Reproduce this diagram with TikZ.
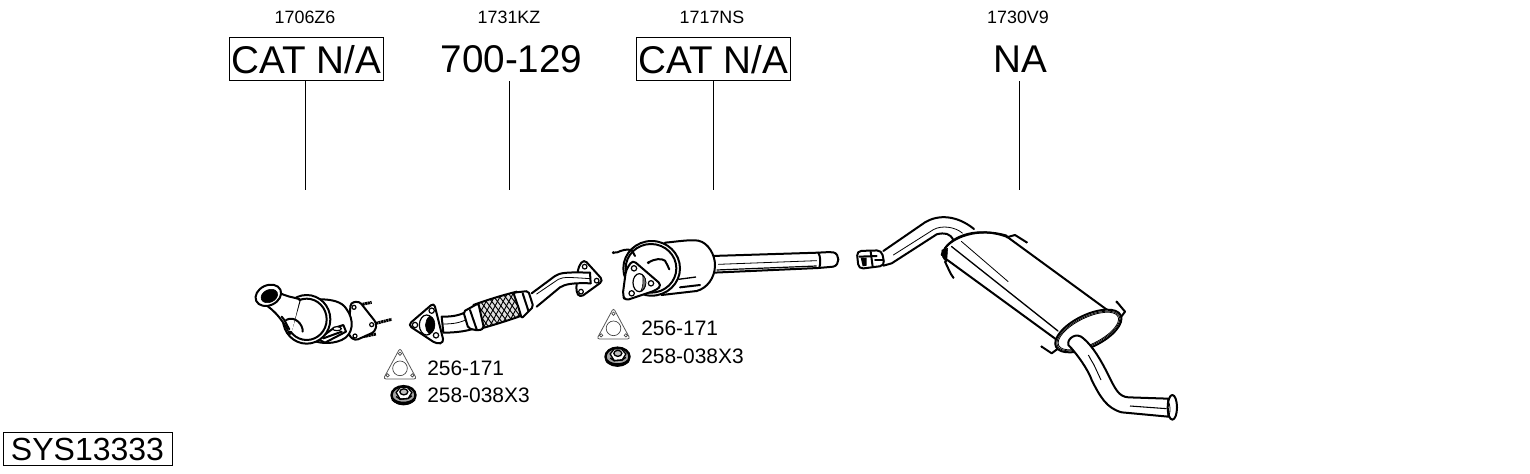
\documentclass[tikz,border=0pt]{standalone}
\usepackage{fontspec}
\setmainfont{Liberation Sans}
\tikzset{
  ol/.style={draw=black,line width=1.5pt,fill=white,line join=round,line cap=round},
  ln/.style={draw=black,line width=1.5pt,line join=round,line cap=round},
  thin2/.style={draw=black,line width=0.6pt,line cap=round},
  hole/.style={draw=black,line width=0.9pt,fill=white},
  big/.style={font=\fontsize{29pt}{30pt}\selectfont,inner sep=0pt,minimum width=115.5pt,minimum height=32.25pt},
  boxed/.style={draw=black,line width=0.75pt},
  code/.style={font=\fontsize{13.4pt}{15pt}\selectfont,inner sep=0pt},
  part/.style={font=\fontsize{15.7pt}{17pt}\selectfont,inner sep=0pt,anchor=west},
  lead/.style={draw=black,line width=0.75pt},
  px/.style={x=0.25pt,y=-0.25pt},
  gasket/.pic={
    \begin{scope}[x=0.25pt,y=-0.25pt]
      \draw[draw=black!65,line width=0.6pt,rounded corners=2pt] (0,-3)--(50,90)--(-50,90)--cycle;
      \draw[draw=black!75,line width=0.5pt] (0,58) circle (22);
      \foreach \p in {(0,14),(37,79),(-37,79)} \draw[draw=black!75,line width=0.5pt] \p circle (5);
    \end{scope}},
  nutpart/.pic={
    \begin{scope}[x=0.25pt,y=-0.25pt]
      \draw[draw=black,line width=1.8pt,fill=black!35] (0,2) ellipse (36 and 27);
      \draw[draw=black,line width=1pt,fill=white] (-22,-6)--(-10,-21)--(12,-21)--(25,-6)--(14,12)--(-10,14)--cycle;
      \draw[draw=black,line width=1pt,fill=black!25] (1,-8) ellipse (12 and 9);
      \draw[draw=black,line width=1pt] (-22,6)--(-10,14)--(14,12)--(25,4);
      \draw[draw=black,line width=2.2pt] (-33,14) .. controls (-18,30) and (18,30) .. (33,14);
    \end{scope}}
}
\begin{document}
\begin{tikzpicture}[x=0.75pt,y=-0.75pt]
\useasboundingbox (0,0) rectangle (1530,474);
\fill[white] (0,0) rectangle (1530,474);

% header labels
\node[code] (c1) at (305,17) {1706Z6};
\node[code] (c2) at (509,17) {1731KZ};
\node[code] (c3) at (712,17) {1717NS};
\node[code] (c4) at (1018,17) {1730V9};
\node[big,boxed] (b1) at (306,59.5) {CAT N/A};
\node[big] (b2) at (511.5,59.5) {700-129};
\node[big,boxed] (b3) at (713,59.5) {CAT N/A};
\node[big] (b4) at (1020,59.5) {NA};
\coordinate (e1) at (305.5,190);
\coordinate (e2) at (509.5,190);
\coordinate (e3) at (713,190);
\coordinate (e4) at (1019,190);
\draw[lead] (e1|-b1.south) -- (e1);
\draw[lead] (e2|-b2.south) -- (e2);
\draw[lead] (e3|-b3.south) -- (e3);
\draw[lead] (e4|-b4.south) -- (e4);
\node[draw=black,line width=0.75pt,font=\fontsize{24pt}{26pt}\selectfont,inner sep=0pt,minimum width=126.75pt,minimum height=24.75pt] (sys) at (87.5,449) {SYS13333};

% gaskets and nuts
\pic at (400,349) {gasket};
\pic at (403.5,394.5) {nutpart};
\pic at (613.5,309) {gasket};
\pic at (617.5,356) {nutpart};
\node[part] (p1) at (427,368.5) {256-171};
\node[part] (p2) at (427,395) {258-038X3};
\node[part] (p3) at (641,328.5) {256-171};
\node[part] (p4) at (641,356) {258-038X3};

% catalyst 1
\begin{scope}[shift={(240,260)},px]
  \foreach \a/\b/\c/\d in {395/127/352/136,455/178/400/192,408/222/370/230}
    \draw[draw=black,line width=2.2pt,dash pattern=on 1.6pt off 0.4pt] (\c,\d)--(\a,\b);
  \draw[ol,rounded corners=2.5pt] (332,128)--(358,124)--(410,190)--(405,215)--(345,242)--(325,225)--cycle;
  \draw[hole] (342,142) circle (6); \draw[hole] (395,194) circle (6); \draw[hole] (345,228) circle (6);
  \draw[ol] (240,118) .. controls (275,118) and (305,125) .. (318,145) .. controls (345,180) and (340,225) .. (305,240) .. controls (270,255) and (230,250) .. (205,235) -- cycle;
  \draw[ol] (280,205) -- (310,195) -- (318,215) -- (255,248) -- (235,238) -- cycle;
  \draw[hole] (291,206) ellipse (13 and 6);
  \draw[ln] (250,235) -- (305,215);
  \draw[ol] (200,178) ellipse (71 and 73);
  \draw[ln] (200,178) ellipse (60 and 62);
  \draw[ol] (60,125) .. controls (90,140) and (120,165) .. (150,222) -- (180,118) .. controls (155,110) and (135,110) .. (115,95) -- cycle;
  \draw[draw=white,line width=3pt] (172,122)--(150,212);
  \draw[ln] (138,180) .. controls (165,165) and (190,195) .. (188,215);
  \draw[ln] (125,170) .. controls (135,180) and (140,195) .. (148,208);
  \draw[ol,rotate around={25:(85,106)}] (85,106) ellipse (40 and 30);
  \draw[draw=black,fill=black,rotate around={25:(88,108)}] (88,108) ellipse (26 and 19);
\end{scope}

% flexible pipe
\begin{scope}[shift={(380,250)},px]
  \draw[ol,rounded corners=3pt] (612,28)--(670,92)--(600,143)--(588,125)--(595,50)--cycle;
  \draw[hole] (614,50) circle (7); \draw[hole] (650,92) circle (7); \draw[hole] (603,125) circle (7);
  \fill[white] (455,130) -- (525,78) .. controls (540,68) and (560,66) .. (630,68) -- (632,100) .. controls (575,98) and (555,103) .. (540,112) -- (470,170) -- cycle;
  \draw[ln] (455,130) -- (525,78) .. controls (540,68) and (560,66) .. (630,68);
  \draw[ln] (632,100) .. controls (575,98) and (555,103) .. (540,112) -- (470,170);
  \draw[ln] (630,68) -- (632,100);
  \draw[thin2] (470,132) -- (535,88) .. controls (550,80) and (570,82) .. (630,86);
  \begin{scope}
    \clip (280,165) .. controls (320,150) and (370,135) .. (410,125) -- (430,195) .. controls (390,210) and (340,225) .. (305,235) -- cycle;
    \fill[black!12] (270,120) rectangle (440,240);
    \foreach \i in {0,...,13} {
      \draw[black,line width=0.7pt] (250+\i*17,250) -- (320+\i*17,120);
      \draw[black,line width=0.7pt] (190+\i*17,120) -- (290+\i*17,250);
    }
  \end{scope}
  \draw[ln] (280,165) .. controls (320,150) and (370,135) .. (410,125);
  \draw[ln] (305,235) .. controls (340,225) and (390,210) .. (430,195);
  \draw[ol,rounded corners=1.5pt] (400,128)--(445,123)--(460,170)--(425,205)--(418,180)--cycle;
  \draw[ln] (428,130)--(445,182);
  \draw[ol] (185,200) .. controls (215,200) and (240,198) .. (268,180) -- (285,235) .. controls (255,245) and (220,248) .. (190,248) -- cycle;
  \draw[thin2] (190,222) .. controls (220,222) and (245,218) .. (265,205);
  \draw[ol,rounded corners=1.5pt] (250,185)--(295,160)--(312,235)--(295,242)--(265,235)--cycle;
  \draw[ln] (270,180)--(290,238);
  \draw[ol,rounded corners=3pt] (162,158)--(192,278)--(170,282)--(84,225)--cycle;
  \draw[hole] (155,182) circle (8); \draw[hole] (168,256) circle (8); \draw[hole] (105,225) circle (8);
  \draw[hole] (140,225) ellipse (22 and 30);
  \draw[fill=black] (150,198) .. controls (170,205) and (170,245) .. (148,252) .. controls (132,240) and (132,210) .. (150,198) -- cycle;
\end{scope}

% catalyst 2 with pipe
\begin{scope}[shift={(590,230)},px]
  \draw[ol] (365,78) -- (685,68) .. controls (700,67) and (715,66) .. (730,67) .. controls (750,72) and (750,105) .. (730,110) -- (685,114) -- (370,128) -- cycle;
  \draw[ln] (685,68) .. controls (692,80) and (692,100) .. (688,113);
  \draw[thin2] (385,103) -- (680,92);
  \draw[line width=0.9pt] (380,120) -- (680,108);
  \draw[ol] (225,38) .. controls (260,35) and (300,28) .. (325,32) .. controls (355,38) and (375,75) .. (375,105) .. controls (375,145) and (350,175) .. (320,183) -- (215,195) -- cycle;
  \draw[line width=1pt] (265,148) -- (318,141);
  \draw[ln] (270,172) -- (330,165);
  \draw[ol] (185,115) ellipse (85 and 82);
  \draw[ln] (183,115) ellipse (76 and 73);
  \draw[ln] (70,68) .. controls (90,70) and (90,55) .. (125,60) .. controls (130,62) and (128,72) .. (135,78);
  \draw[ln] (175,98) .. controls (195,85) and (215,85) .. (225,92) .. controls (232,100) and (232,110) .. (238,118);
  \draw[black,fill=black] (70,68) circle (3.5); \draw[black,fill=black] (175,98) circle (3.5);
  \draw[ol,rounded corners=3pt] (128,90)--(215,165)--(200,180)--(105,212)--(98,195)--(108,120)--cycle;
  \draw[hole] (132,115) circle (8); \draw[hole] (183,160) circle (8); \draw[hole] (125,190) circle (8);
  \draw[hole] (148,158) ellipse (19 and 27);
  \draw[fill=black!55,draw=black] (158,136) .. controls (172,145) and (172,172) .. (152,184) .. controls (160,170) and (160,150) .. (158,136) -- cycle;
\end{scope}

% rear silencer: inlet pipe
\begin{scope}[shift={(850,205)},px]
  \fill[white] (100,138) -- (225,52) .. controls (265,28) and (320,30) .. (372,72) -- (310,105) .. controls (300,85) and (285,82) .. (260,88) -- (125,175) -- (100,182) -- cycle;
  \draw[ln] (100,138) -- (225,52) .. controls (265,28) and (320,30) .. (372,72);
  \draw[ln] (310,105) .. controls (300,85) and (285,82) .. (260,88) -- (125,175) -- (100,182);
  \draw[thin2] (130,150) -- (250,74) .. controls (275,60) and (315,65) .. (338,85);
  \draw[ol,rounded corners=3.5pt] (20,138)--(95,136)--(104,182)--(26,192)--cycle;
  \fill[black] (32,158) -- (50,158) -- (50,182) -- (38,184) -- cycle;
  \draw[ln] (28,155)--(80,153);
  \draw[ln] (62,140)--(68,185);
  \draw[ln] (75,165)--(100,165);
\end{scope}

% rear silencer: body
\fill[white] (946,259) .. controls (945,232) and (980,222) .. (1006.5,236.5) -- (1110,312) -- (1057,340) -- cycle;
\draw[ln] (946,259) -- (1057,340);
\draw[ln] (1006,236) -- (1110,312);
\draw[draw=black,line width=1pt,line cap=round] (951.5,246.5) -- (1058,331);
\draw[thin2] (961.5,241.5) -- (1008,281.5);

\begin{scope}[shift={(850,205)},px]
  \draw[ln] (470,97) -- (495,90) -- (530,112);
  \draw[ln] (285,170) .. controls (295,190) and (300,205) .. (310,218);
  \fill[black] (310,218) circle (3.5);
  \fill[black] (530,112) circle (3.5);
  \draw[ln] (275,150) .. controls (290,100) and (370,60) .. (470,95);
  \draw[ln] (285,130) .. controls (305,100) and (380,65) .. (470,92);
  \draw[fill=black] (276,135) .. controls (272,150) and (280,165) .. (290,170) -- (293,130) -- cycle;
\end{scope}

% rear silencer: rear end and tail pipe
\begin{scope}[shift={(1020,290)},px]
  \draw[ln] (290,35) -- (315,65) -- (300,85);
  \fill[black] (290,36) circle (4);
  \draw[ln] (65,170) -- (95,190) -- (115,175);
  \fill[black] (65,170) circle (4);
  \draw[ol,rotate around={26:(205,123)}] (205,123) ellipse (108 and 48);
  \draw[thin2,rotate around={26:(205,123)}] (205,123) ellipse (103 and 43);
  \draw[thin2,rotate around={26:(205,123)}] (205,123) ellipse (99 and 40);
  \draw[ol] (145,165) .. controls (140,145) and (170,125) .. (190,145)
     .. controls (220,170) and (245,215) .. (265,255) .. controls (285,295) and (295,320) .. (325,322)
     -- (445,326) -- (445,380) -- (305,367) .. controls (260,355) and (240,320) .. (215,270)
     .. controls (205,240) and (170,190) .. (145,165) -- cycle;
  \draw[line width=0.7pt] (205,195) .. controls (212,208) and (218,218) .. (222,225) -- (243,270);
  \draw[line width=0.8pt] (330,348) -- (440,356);
  \draw[ol] (457,352) ellipse (14 and 37);
  \draw[thin2] (443,330) .. controls (452,345) and (452,365) .. (446,380);
\end{scope}
\end{tikzpicture}
\end{document}
